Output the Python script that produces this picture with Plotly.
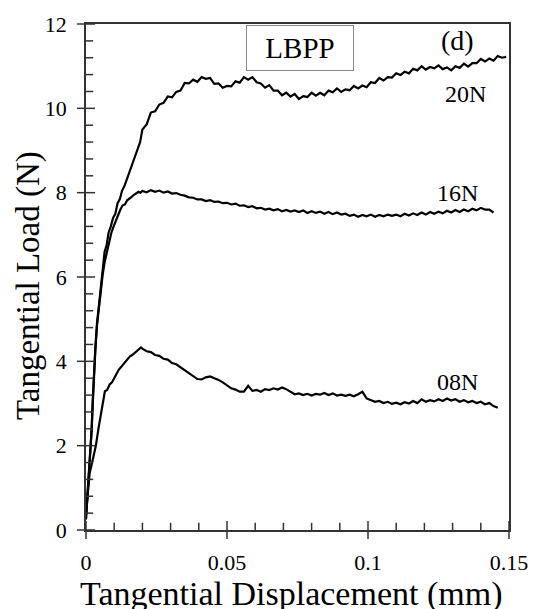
import plotly.graph_objects as go

# ---- data (tangential displacement in mm, tangential load in N) ----
plateau_x = [0.02, 0.0215, 0.023, 0.0245, 0.026, 0.0275, 0.029, 0.0305, 0.032, 0.0335,
             0.035, 0.0365, 0.038, 0.0395, 0.041, 0.0425, 0.044, 0.0455, 0.047, 0.0485,
             0.05, 0.0515, 0.053, 0.0545, 0.056, 0.0575, 0.059, 0.0605, 0.062, 0.0635,
             0.065, 0.0665, 0.068, 0.0695, 0.071, 0.0725, 0.074, 0.0755, 0.077, 0.0785,
             0.08, 0.0815, 0.083, 0.0845, 0.086, 0.0875, 0.089, 0.0905, 0.092, 0.0935,
             0.095, 0.0965, 0.098, 0.0995, 0.101, 0.1025, 0.104, 0.1055, 0.107, 0.1085,
             0.11, 0.1115, 0.113, 0.1145, 0.116, 0.1175, 0.119, 0.1205, 0.122, 0.1235,
             0.125, 0.1265, 0.128, 0.1295, 0.131, 0.1325, 0.134, 0.1355, 0.137, 0.1385,
             0.14, 0.1415, 0.143, 0.1445, 0.146, 0.1475, 0.149]

rise20_x = [0, 0.0005, 0.001, 0.0015, 0.002, 0.0024, 0.0028, 0.0033, 0.0039, 0.0045,
            0.0052, 0.0059, 0.0066, 0.0073, 0.008, 0.0088, 0.0096, 0.0104, 0.0112, 0.012,
            0.0128, 0.0136, 0.0144, 0.0152, 0.016, 0.0168, 0.0176, 0.0184, 0.0192]
rise20_y = [0.3, 0.8, 1.3, 1.8, 2.4, 3.1, 3.7, 4.3, 4.9, 5.25,
            5.75, 6.15, 6.6, 6.75, 7.05, 7.2, 7.4, 7.5, 7.75, 7.85,
            8.05, 8.15, 8.3, 8.45, 8.55, 8.75, 8.85, 9.05, 9.2]
plat20_y = [9.50, 9.62, 9.90, 9.93, 10.09, 10.13, 10.28, 10.26, 10.39, 10.42,
            10.60, 10.59, 10.68, 10.63, 10.74, 10.70, 10.72, 10.58, 10.59, 10.49,
            10.53, 10.52, 10.64, 10.61, 10.74, 10.68, 10.74, 10.62, 10.59, 10.49,
            10.55, 10.42, 10.42, 10.31, 10.37, 10.28, 10.34, 10.22, 10.29, 10.27,
            10.37, 10.30, 10.37, 10.31, 10.42, 10.38, 10.47, 10.39, 10.45, 10.43,
            10.53, 10.47, 10.54, 10.50, 10.62, 10.60, 10.72, 10.66, 10.74, 10.73,
            10.83, 10.79, 10.87, 10.83, 10.94, 10.90, 11.00, 10.92, 10.98, 10.95,
            11.02, 10.93, 10.97, 10.90, 11.00, 10.96, 11.06, 10.99, 11.07, 11.07,
            11.17, 11.11, 11.18, 11.13, 11.24, 11.20, 11.22]

rise16_x = [0, 0.0005, 0.001, 0.0015, 0.002, 0.0024, 0.0028, 0.0033, 0.0039, 0.0045,
            0.0052, 0.0059, 0.0066, 0.0074, 0.0082, 0.009, 0.0098, 0.0106, 0.0114, 0.0122,
            0.013, 0.0138, 0.0146, 0.0154, 0.0162, 0.017, 0.0178, 0.0186, 0.0193]
rise16_y = [0.25, 0.75, 1.25, 1.75, 2.35, 3.0, 3.65, 4.25, 4.85, 5.2,
            5.7, 6.05, 6.35, 6.6, 6.85, 7.05, 7.2, 7.35, 7.5, 7.6,
            7.7, 7.72, 7.82, 7.85, 7.9, 7.95, 7.98, 8.02, 8.0]
plat16_y = [8.04, 8.01, 8.06, 8.02, 8.05, 8.00, 8.03, 7.98, 7.99, 7.95,
            7.93, 7.89, 7.88, 7.84, 7.84, 7.80, 7.82, 7.78, 7.79, 7.75,
            7.76, 7.72, 7.74, 7.69, 7.70, 7.66, 7.68, 7.63, 7.64, 7.60,
            7.62, 7.58, 7.61, 7.56, 7.59, 7.55, 7.58, 7.54, 7.58, 7.52,
            7.56, 7.52, 7.55, 7.50, 7.54, 7.49, 7.53, 7.48, 7.50, 7.45,
            7.48, 7.43, 7.47, 7.44, 7.48, 7.43, 7.47, 7.44, 7.48, 7.45,
            7.48, 7.44, 7.50, 7.46, 7.51, 7.47, 7.53, 7.48, 7.54, 7.50,
            7.55, 7.51, 7.57, 7.53, 7.59, 7.54, 7.60, 7.56, 7.62, 7.58,
            7.64, 7.60, 7.60, 7.53]

rise08_x = [0, 0.0004, 0.0008, 0.0013, 0.002, 0.0028, 0.0035, 0.0044, 0.0053, 0.006,
            0.0067, 0.0075, 0.0084, 0.0092, 0.01, 0.0108, 0.0116, 0.0124, 0.0132, 0.014,
            0.0148, 0.0156, 0.0164, 0.0172, 0.018, 0.0188, 0.0195]
rise08_y = [0.4, 0.75, 1.1, 1.35, 1.55, 1.8, 2.0, 2.4, 2.75, 3.05,
            3.29, 3.32, 3.45, 3.5, 3.62, 3.7, 3.8, 3.86, 3.93, 4.0,
            4.06, 4.12, 4.15, 4.2, 4.24, 4.28, 4.33]
plat08_y = [4.30, 4.24, 4.22, 4.15, 4.13, 4.06, 4.04, 3.96, 3.93, 3.86,
            3.78, 3.73, 3.66, 3.58, 3.57, 3.62, 3.64, 3.60, 3.56, 3.50,
            3.42, 3.36, 3.33, 3.28, 3.28, 3.42, 3.30, 3.32, 3.28, 3.34,
            3.32, 3.36, 3.33, 3.38, 3.34, 3.28, 3.22, 3.24, 3.20, 3.23,
            3.19, 3.23, 3.21, 3.25, 3.20, 3.24, 3.19, 3.21, 3.18, 3.21,
            3.17, 3.22, 3.28, 3.12, 3.08, 3.04, 3.06, 3.01, 3.04, 2.99,
            3.02, 2.98, 3.03, 3.00, 3.06, 3.01, 3.10, 3.04, 3.08, 3.05,
            3.10, 3.06, 3.12, 3.07, 3.10, 3.04, 3.08, 3.03, 3.06, 3.01,
            3.04, 2.98, 3.01, 2.94, 2.90]

x_ticks = [0, 0.05, 0.1, 0.15]
x_tick_text = ["0", "0.05", "0.1", "0.15"]
y_ticks = [0, 2, 4, 6, 8, 10, 12]
y_tick_text = ["0", "2", "4", "6", "8", "10", "12"]
x_minor = [0.01, 0.02, 0.03, 0.04, 0.06, 0.07, 0.08, 0.09, 0.11, 0.12, 0.13, 0.14]
y_minor = [0.4, 0.8, 1.2, 1.6, 2.4, 2.8, 3.2, 3.6, 4.4, 4.8, 5.2, 5.6,
           6.4, 6.8, 7.2, 7.6, 8.4, 8.8, 9.2, 9.6, 10.4, 10.8, 11.2, 11.6]

curve_labels = ["20N", "16N", "08N"]
label_pos = [(0.1344, 10.33), (0.1319, 8.0), (0.1316, 3.51)]

FONT = "Liberation Serif"
TC = "#333333"
X_RANGE = [0, 0.15]
Y_RANGE = [0, 12]
MARGIN = dict(l=86, r=27, t=20, b=79)
W, H = 540, 609
plot_w = W - MARGIN["l"] - MARGIN["r"]
plot_h = H - MARGIN["t"] - MARGIN["b"]
# pixel -> data conversion, used to keep minor tick marks on the inner side
x_per_px = (X_RANGE[1] - X_RANGE[0]) / plot_w
y_per_px = (Y_RANGE[1] - Y_RANGE[0]) / plot_h
MINOR_LEN = 6

fig = go.Figure()
for rx, ry, py in [(rise20_x, rise20_y, plat20_y),
                   (rise16_x, rise16_y, plat16_y),
                   (rise08_x, rise08_y, plat08_y)]:
    fig.add_trace(go.Scatter(x=rx + plateau_x[:len(py)], y=ry + py, mode="lines",
                             line=dict(color="black", width=2.2), showlegend=False))

# tick marks (major ticks cross the axis, minor ticks point inward)
tick_style = dict(mode="markers", showlegend=False, hoverinfo="skip", cliponaxis=False)
fig.add_trace(go.Scatter(x=x_ticks, y=[Y_RANGE[0]] * len(x_ticks),
                         marker=dict(symbol="line-ns", size=13, color=TC,
                                     line=dict(width=1.5, color=TC)), **tick_style))
fig.add_trace(go.Scatter(x=[X_RANGE[0]] * len(y_ticks), y=y_ticks,
                         marker=dict(symbol="line-ew", size=13, color=TC,
                                     line=dict(width=1.5, color=TC)), **tick_style))
fig.add_trace(go.Scatter(x=x_minor, y=[Y_RANGE[0] + MINOR_LEN / 2 * y_per_px] * len(x_minor),
                         marker=dict(symbol="line-ns", size=MINOR_LEN, color=TC,
                                     line=dict(width=1.5, color=TC)), **tick_style))
fig.add_trace(go.Scatter(x=[X_RANGE[0] + MINOR_LEN / 2 * x_per_px] * len(y_minor), y=y_minor,
                         marker=dict(symbol="line-ew", size=MINOR_LEN, color=TC,
                                     line=dict(width=1.5, color=TC)), **tick_style))

fig.update_layout(
    width=W, height=H, margin=MARGIN,
    paper_bgcolor="white", plot_bgcolor="white",
    font=dict(family=FONT, color="black"),
)
# transparent axis ticks only set the gap between the axis and its labels
fig.update_xaxes(range=X_RANGE, tickmode="array", tickvals=x_ticks, ticktext=x_tick_text,
                 ticks="outside", ticklen=12, tickcolor="rgba(0,0,0,0)",
                 showline=True, mirror=True, linecolor=TC, linewidth=1.5,
                 showgrid=False, zeroline=False,
                 tickfont=dict(family=FONT, size=22))
fig.update_yaxes(range=Y_RANGE, tickmode="array", tickvals=y_ticks, ticktext=y_tick_text,
                 ticks="outside", ticklen=13, tickcolor="rgba(0,0,0,0)",
                 showline=True, mirror=True, linecolor=TC, linewidth=1.5,
                 showgrid=False, zeroline=False,
                 tickfont=dict(family=FONT, size=22))

ann = []
for lab, (lx, ly) in zip(curve_labels, label_pos):
    ann.append(dict(x=lx, y=ly, xref="x", yref="y", text=lab, showarrow=False,
                    font=dict(family=FONT, size=24, color="black"),
                    xanchor="center", yanchor="middle"))
ann.append(dict(x=0.0758, y=11.42, xref="x", yref="y", text="LBPP", showarrow=False,
                font=dict(family=FONT, size=29, color="black"),
                bordercolor="#888", borderwidth=1, borderpad=2, width=102, height=40,
                bgcolor="white", xanchor="center", yanchor="middle"))
ann.append(dict(x=0.1318, y=11.6, xref="x", yref="y", text="(d)", showarrow=False,
                font=dict(family=FONT, size=28, color="black"),
                xanchor="center", yanchor="middle"))
ann.append(dict(x=0.485, y=0, xref="paper", yref="paper", yshift=-64,
                text="Tangential Displacement (mm)", showarrow=False,
                font=dict(family=FONT, size=34, color="black"),
                xanchor="center", yanchor="middle"))
ann.append(dict(x=0, y=0.482, xref="paper", yref="paper", xshift=-58,
                text="Tangential Load (N)", showarrow=False, textangle=-90,
                font=dict(family=FONT, size=33, color="black"),
                xanchor="center", yanchor="middle"))
fig.update_layout(annotations=ann)

fig.write_html("out.html")
